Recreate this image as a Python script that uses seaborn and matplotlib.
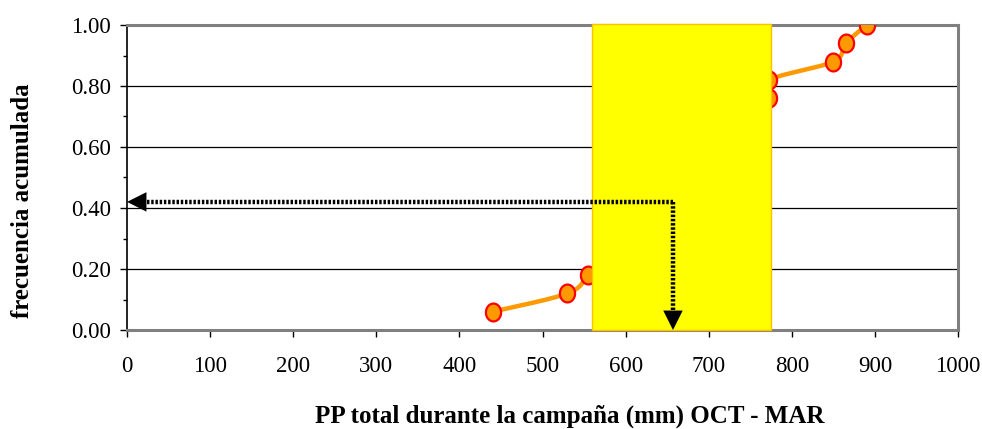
import numpy as np
import matplotlib
matplotlib.use("Agg")
import matplotlib.pyplot as plt
from matplotlib.patches import Rectangle
from matplotlib.path import Path
from matplotlib.ticker import MultipleLocator, FormatStrFormatter
import seaborn as sns
import pandas as pd

# ---- data ----
pp_mm = [440, 530, 555, 575, 595, 615, 630, 650, 670, 695, 720, 745,
         772, 773, 850, 865, 890]
freq_acum = [0.06, 0.12, 0.18, 0.24, 0.29, 0.35, 0.41, 0.47, 0.53, 0.59,
             0.65, 0.71, 0.76, 0.82, 0.88, 0.94, 1.00]
box_range = [560, 775]
arrow_x = 657
arrow_y = 0.42
x_ticks = [0, 100, 200, 300, 400, 500, 600, 700, 800, 900, 1000]
y_ticks = [0.0, 0.2, 0.4, 0.6, 0.8, 1.0]
xlabel = "PP total durante la campaña (mm) OCT - MAR"
ylabel = "frecuencia acumulada"

df = pd.DataFrame({"pp": pp_mm, "f": freq_acum})

sns.set_style("white")
plt.rcParams["font.family"] = ["Liberation Serif", "DejaVu Serif"]
for k in ["text.color", "axes.labelcolor", "xtick.color", "ytick.color"]:
    plt.rcParams[k] = "black"

W, H = 982, 429
fig = plt.figure(figsize=(W / 100, H / 100), dpi=100)
L, R, T, B = 127, 958, 25, 330
ax = fig.add_axes([L / W, 1 - B / H, (R - L) / W, (B - T) / H])
ax.set_xlim(0, 1000)
ax.set_ylim(0, 1.0)

# smoothed line (Excel-like Bezier smoothing, computed in pixel space)
sx, sy = (R - L) / 1000.0, (B - T) / 1.0
pts = np.c_[df["pp"].to_numpy() * sx, df["f"].to_numpy() * sy]
segs = []
for i in range(len(pts) - 1):
    p0 = pts[i - 1] if i > 0 else pts[i]
    p1, p2 = pts[i], pts[i + 1]
    p3 = pts[i + 2] if i + 2 < len(pts) else pts[i + 1]
    c1 = p1 + (p2 - p0) / 6.0
    c2 = p2 - (p3 - p1) / 6.0
    t = np.linspace(0, 1, 25)[:, None]
    seg = (1 - t) ** 3 * p1 + 3 * (1 - t) ** 2 * t * c1 + 3 * (1 - t) * t ** 2 * c2 + t ** 3 * p2
    segs.append(seg if i == 0 else seg[1:])
curve = np.vstack(segs)
curve_df = pd.DataFrame({"pp": curve[:, 0] / sx, "f": curve[:, 1] / sy})

sns.lineplot(data=curve_df, x="pp", y="f", sort=False, color="#FF9900",
             linewidth=3.2, ax=ax, zorder=3, estimator=None)

# slightly tall elliptical marker like the original
th = np.linspace(0, 2 * np.pi, 60)
ell = Path(np.c_[0.85 * np.cos(th), np.sin(th)], closed=True)
sns.scatterplot(data=df, x="pp", y="f", ax=ax, s=165, marker=ell,
                color="#FF9900", edgecolor="#FF0000", linewidth=1.6, zorder=4)

# yellow box
ax.add_patch(Rectangle((box_range[0], 0), box_range[1] - box_range[0], 1.004,
                       facecolor="#FFFF00", edgecolor="#FFC000", linewidth=1.0,
                       zorder=5, clip_on=False))

# dotted arrows
ax.plot([arrow_x, 12], [arrow_y, arrow_y], color="black", lw=3.2,
        linestyle=(0, (0.55, 0.4)), zorder=6)
ax.plot([arrow_x, arrow_x], [arrow_y, 0.05], color="black", lw=3.2,
        linestyle=(0, (0.55, 0.4)), zorder=6)
ap = dict(arrowstyle="-|>,head_length=1.4,head_width=0.7", mutation_scale=10,
          color="black", lw=0, shrinkA=0, shrinkB=0)
ax.annotate("", xy=(0, arrow_y), xytext=(60, arrow_y), arrowprops=ap, zorder=7)
ax.annotate("", xy=(arrow_x, 0), xytext=(arrow_x, 0.2), arrowprops=ap, zorder=7)

# axes styling
ax.set_xticks(x_ticks)
ax.set_yticks(y_ticks)
ax.yaxis.set_minor_locator(MultipleLocator(0.1))
ax.yaxis.set_major_formatter(FormatStrFormatter("%.2f"))
ax.tick_params(axis="both", which="major", direction="out", length=5, width=1,
               color="black", labelsize=16.5, bottom=True, left=True)
ax.tick_params(axis="y", which="minor", direction="out", length=3, width=1,
               color="black", left=True)
ax.tick_params(axis="x", pad=13.5)
ax.tick_params(axis="y", pad=6.5)
ax.yaxis.grid(True, which="major", color="black", linewidth=0.9)
ax.set_axisbelow(True)
for s in ["top", "right", "bottom"]:
    ax.spines[s].set_color("#808080")
    ax.spines[s].set_linewidth(2.2)
ax.spines["left"].set_color("black")
ax.spines["left"].set_linewidth(1.2)
ax.set_xlabel("")
ax.set_ylabel("")

fig.text(570 / W, 1 - 416 / H, xlabel, ha="center", va="center",
         fontsize=18, fontweight="bold")
fig.text(23 / W, 1 - 201 / H, ylabel, ha="center", va="center",
         rotation=90, fontsize=18, fontweight="bold")

fig.savefig("out.png", dpi=100)
